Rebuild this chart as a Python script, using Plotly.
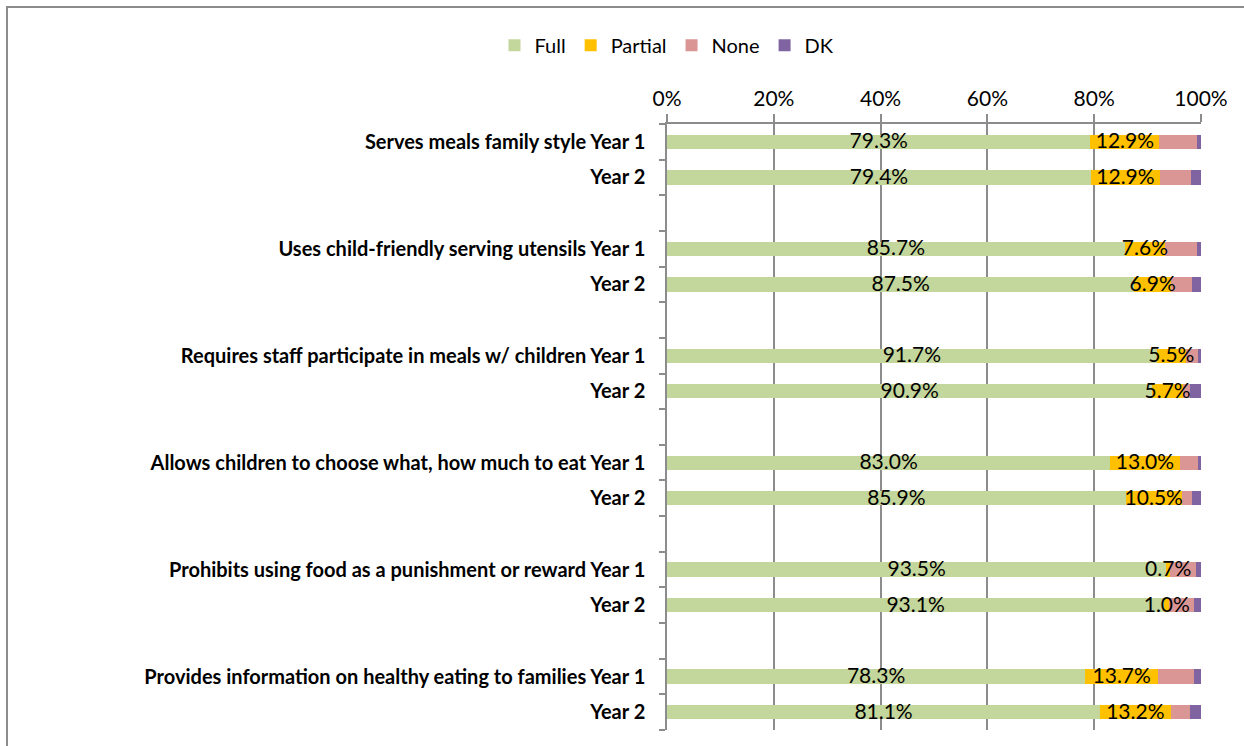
import plotly.graph_objects as go

# Practices surveyed, each reported for Year 1 and Year 2
items = [
    "Serves meals family style",
    "Uses child-friendly serving utensils",
    "Requires staff participate in meals w/ children",
    "Allows children to choose what, how much to eat",
    "Prohibits using food as a punishment or reward",
    "Provides information on healthy eating to families",
]
years = ["Year 1", "Year 2"]

# Percent of respondents per response category (Year 1, Year 2 for each practice)
full = [79.3, 79.4, 85.7, 87.5, 91.7, 90.9, 83.0, 85.9, 93.5, 93.1, 78.3, 81.1]
partial = [12.9, 12.9, 7.6, 6.9, 5.5, 5.7, 13.0, 10.5, 0.7, 1.0, 13.7, 13.2]
none = [7.0, 5.8, 5.9, 4.0, 2.2, 1.4, 3.4, 2.0, 4.8, 4.6, 6.7, 3.6]
dk = [0.8, 1.9, 0.8, 1.6, 0.6, 2.0, 0.6, 1.6, 1.0, 1.3, 1.3, 2.1]

x_ticks = [0, 20, 40, 60, 80, 100]
x_tick_text = ["0%", "20%", "40%", "60%", "80%", "100%"]

# Row layout: two bars per practice followed by an empty slot
positions, labels = [], []
for g, item in enumerate(items):
    for k, yr in enumerate(years):
        positions.append(3 * g + k)
        labels.append(f"{item} {yr}" if k == 0 else yr)
n_slots = 3 * len(items) - 1

FONT = "Lato"
GRID = "#8c8c8c"

series = [
    ("Full", full, "#c3d69b"),
    ("Partial", partial, "#ffc000"),
    ("None", none, "#d99694"),
    ("DK", dk, "#8064a2"),
]

fig = go.Figure()
for name, vals, color in series:
    fig.add_trace(go.Bar(
        name=name,
        x=vals,
        y=positions,
        orientation="h",
        width=0.4,
        marker=dict(color=color, line=dict(width=0)),
        hoverinfo="skip",
    ))

# Value labels for Full and Partial, centred on their segments and drawn above all bars
full_mid = [f / 2 for f in full]
partial_mid = [f + p / 2 for f, p in zip(full, partial)]
for mids, vals in ((full_mid, full), (partial_mid, partial)):
    fig.add_trace(go.Scatter(
        x=mids,
        y=[p + 0.03 for p in positions],
        mode="text",
        text=[f"{v:.1f}%" for v in vals],
        textposition="middle center",
        textfont=dict(family=FONT, size=21, color="#000000"),
        showlegend=False,
        hoverinfo="skip",
        cliponaxis=False,
    ))

fig.update_layout(
    barmode="stack",
    width=1244,
    height=746,
    margin=dict(l=667, r=43, t=124, b=16),
    paper_bgcolor="#ffffff",
    plot_bgcolor="#ffffff",
    font=dict(family=FONT, size=20, color="#000000"),
    legend=dict(
        orientation="h",
        x=0.0, xanchor="center",
        y=1.13, yanchor="middle",
        font=dict(family=FONT, size=20, color="#000000"),
        traceorder="normal",
        itemwidth=30,
    ),
    xaxis=dict(
        side="top",
        range=[0, 100],
        tickmode="array",
        tickvals=x_ticks,
        ticktext=x_tick_text,
        showgrid=True,
        gridcolor=GRID,
        gridwidth=1.5,
        zeroline=False,
        showline=True,
        linecolor=GRID,
        linewidth=1.5,
        ticks="outside",
        ticklen=8,
        tickwidth=1.5,
        tickcolor=GRID,
        tickfont=dict(family=FONT, size=21, color="#000000"),
        fixedrange=True,
    ),
    yaxis=dict(
        range=[n_slots - 0.5, -0.5],
        tickmode="array",
        tickvals=positions,
        ticktext=labels,
        ticks="",
        ticklen=0,
        showgrid=False,
        zeroline=False,
        showline=True,
        linecolor=GRID,
        linewidth=1.5,
        ticklabelstandoff=16,
        tickfont=dict(family=FONT, size=20, color="#000000", weight="bold"),
        minor=dict(
            tickmode="array",
            tickvals=[k - 0.5 for k in range(n_slots + 1)],
            ticks="outside",
            ticklen=6,
            tickwidth=1.5,
            tickcolor=GRID,
            showgrid=False,
        ),
        fixedrange=True,
    ),
    shapes=[
        dict(
            type="rect", xref="paper", yref="paper",
            x0=(7 - 667) / 534, x1=1.2,
            y0=-0.2, y1=(730 - 7) / 606,
            line=dict(color="#8c8c8c", width=2),
            fillcolor="rgba(0,0,0,0)",
            layer="below",
        )
    ],
)

fig.write_html("out.html")
